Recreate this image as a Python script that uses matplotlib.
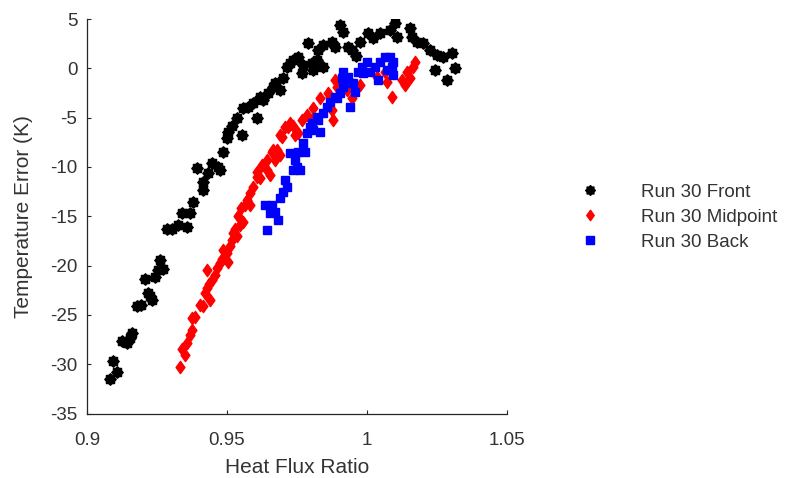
import matplotlib
matplotlib.use("Agg")
import matplotlib.pyplot as plt
from matplotlib.path import Path
import numpy as np

plt.rcParams['font.family'] = ['Liberation Sans', 'DejaVu Sans']
plt.rcParams['axes.unicode_minus'] = False

# ---- data ----
front_x = [0.9082, 0.9107, 0.9093, 0.9125, 0.9143, 0.9154, 0.9161, 0.9179, 0.9193, 0.9207,
           0.9218, 0.9232, 0.9225, 0.9243, 0.9254, 0.9261, 0.9271, 0.9286, 0.9304, 0.9325,
           0.9357, 0.9339, 0.9368, 0.9379, 0.9414, 0.9414, 0.9393, 0.9432, 0.9446, 0.9468,
           0.9475, 0.9486, 0.9500, 0.9504, 0.9518, 0.9536, 0.9554, 0.9557, 0.9575, 0.9593,
           0.9607, 0.9618, 0.9629, 0.9646, 0.9664, 0.9671, 0.9689, 0.9700, 0.9714, 0.9725,
           0.9736, 0.9754, 0.9768, 0.9771, 0.9789, 0.9804, 0.9821, 0.9825, 0.9843, 0.9843,
           0.9875, 0.9886, 0.9904, 0.9914, 0.9932, 0.9946, 0.9975, 1.0004, 1.0021, 1.0046,
           1.0082, 1.0100, 1.0107, 1.0154, 1.0161, 1.0179, 1.0200, 1.0225, 1.0250, 1.0271,
           1.0304, 1.0243, 1.0314, 1.0286, 0.9961, 0.9807]
front_y = [-31.5, -30.8, -29.7, -27.6, -27.9, -27.3, -26.8, -24.1, -24.0, -21.4,
           -22.8, -23.5, -23.1, -21.2, -20.5, -19.4, -20.3, -16.3, -16.3, -15.9,
           -16.1, -14.7, -14.7, -13.6, -12.3, -11.5, -10.1, -10.6, -9.6, -10.0,
           -10.3, -8.5, -7.1, -6.5, -5.8, -5.0, -6.8, -4.0, -3.9, -3.5,
           -5.0, -2.9, -3.2, -2.5, -1.9, -1.5, -2.2, -1.0, 0.1, 0.5,
           0.8, 1.1, -0.5, 0.3, 2.6, 0.5, 0.8, 1.9, 0.1, 2.4,
           2.7, 2.2, 4.4, 3.7, 2.2, 1.9, 2.7, 3.6, 3.1, 3.6,
           3.9, 4.6, 3.2, 4.1, 3.2, 2.7, 2.6, 1.9, 1.3, 1.1,
           1.6, -0.2, 0.0, -1.2, 1.2, -0.2]

mid_x = [0.9332, 0.9350, 0.9339, 0.9357, 0.9368, 0.9375, 0.9386, 0.9375, 0.9404, 0.9414,
         0.9439, 0.9421, 0.9429, 0.9436, 0.9446, 0.9429, 0.9457, 0.9464, 0.9475, 0.9482,
         0.9486, 0.9500, 0.9504, 0.9511, 0.9518, 0.9521, 0.9536, 0.9529, 0.9546, 0.9557,
         0.9539, 0.9550, 0.9564, 0.9582, 0.9571, 0.9582, 0.9593, 0.9607, 0.9618, 0.9607,
         0.9625, 0.9643, 0.9643, 0.9661, 0.9679, 0.9671, 0.9654, 0.9664, 0.9689, 0.9689,
         0.9696, 0.9707, 0.9718, 0.9725, 0.9736, 0.9743, 0.9754, 0.9768, 0.9786, 0.9804,
         0.9807, 0.9832, 0.9861, 0.9875, 0.9879, 0.9868, 0.9893, 0.9904, 0.9886, 0.9929,
         0.9946, 0.9975, 1.0036, 1.0071, 1.0089, 1.0064, 1.0125, 1.0136, 1.0143, 1.0164,
         1.0171, 1.0154]
mid_y = [-30.3, -29.1, -28.5, -27.9, -27.0, -26.5, -25.2, -25.3, -24.0, -24.1,
         -23.5, -22.8, -22.3, -21.9, -21.5, -20.5, -21.0, -20.2, -19.7, -19.3,
         -18.4, -18.7, -19.6, -18.0, -17.4, -16.7, -17.0, -16.3, -15.9, -15.6,
         -15.0, -14.2, -13.9, -13.9, -13.4, -12.6, -12.0, -11.0, -11.1, -10.5,
         -9.8, -10.3, -9.3, -8.5, -8.3, -9.3, -10.8, -8.3, -8.8, -6.8,
         -7.0, -6.0, -6.0, -5.5, -5.8, -6.8, -6.6, -5.2, -4.7, -5.2,
         -4.0, -3.0, -2.5, -4.2, -5.2, -2.9, -1.9, -1.4, -1.2, -2.2,
         -3.0, -1.7, -0.9, -1.4, -2.9, -0.4, -1.2, -1.7, -0.4, 0.1,
         0.6, -1.0]

back_x = [0.9643, 0.9636, 0.9661, 0.9654, 0.9682, 0.9671, 0.9689, 0.9700, 0.9714, 0.9707,
          0.9736, 0.9750, 0.9761, 0.9743, 0.9725, 0.9754, 0.9779, 0.9771, 0.9786, 0.9807,
          0.9832, 0.9804, 0.9821, 0.9843, 0.9857, 0.9868, 0.9893, 0.9904, 0.9939, 0.9914,
          0.9939, 0.9957, 0.9911, 0.9914, 0.9932, 0.9950, 0.9968, 0.9982, 1.0000, 1.0011,
          1.0029, 1.0046, 1.0064, 1.0082, 1.0089, 1.0093, 1.0039, 0.9986, 1.0071, 1.0093,
          0.9796, 0.9825, 0.9886]
back_y = [-16.4, -13.9, -13.9, -14.7, -15.4, -14.6, -13.1, -12.5, -12.0, -11.3,
          -10.3, -10.0, -10.3, -9.3, -8.6, -8.5, -8.5, -7.6, -6.6, -6.3,
          -6.5, -5.5, -4.9, -4.5, -3.9, -3.4, -3.0, -2.5, -3.9, -1.9,
          -1.5, -2.4, -1.0, -0.4, -0.9, -1.5, -0.4, 0.1, 0.6, -0.4,
          0.1, 0.6, 1.1, 1.1, 0.1, -0.7, -1.2, -0.5, -0.2, 0.6,
          -6.0, -5.2, -2.9]

series_labels = ['Run 30 Front', 'Run 30 Midpoint', 'Run 30 Back']
x_ticks = [0.9, 0.95, 1.0, 1.05]
x_ticklabels = ['0.9', '0.95', '1', '1.05']
y_ticks = list(range(-35, 6, 5))

# ---- markers ----
star_marker = Path.unit_regular_star(8, 0.78)
diamond_marker = Path([(0, 1), (0.72, 0), (0, -1), (-0.72, 0), (0, 1)],
                      [Path.MOVETO, Path.LINETO, Path.LINETO, Path.LINETO, Path.CLOSEPOLY])

fig = plt.figure(figsize=(7.86, 4.78), dpi=100)
ax = fig.add_axes([87 / 786, 1 - 413.5 / 478, 420 / 786, 394.5 / 478])

ax.plot(front_x, front_y, linestyle='none', marker=star_marker, ms=8.2,
        color='black', mec='black', label=series_labels[0])
ax.plot(mid_x, mid_y, linestyle='none', marker=diamond_marker, ms=8.8,
        color='red', mec='red', label=series_labels[1])
ax.plot(back_x, back_y, linestyle='none', marker='s', ms=6.2,
        color='blue', mec='blue', label=series_labels[2])

ax.set_xlim(0.9, 1.05)
ax.set_ylim(-35, 5)
ax.set_xticks(x_ticks)
ax.set_xticklabels(x_ticklabels)
ax.set_yticks(y_ticks)

axis_color = '#262626'
for s in ['top', 'right']:
    ax.spines[s].set_visible(False)
for s in ['left', 'bottom']:
    ax.spines[s].set_color(axis_color)
    ax.spines[s].set_linewidth(0.9)
ax.tick_params(direction='in', length=3, width=0.8, colors=axis_color,
               labelsize=13.5, labelcolor='#333333')
ax.tick_params(axis='x', pad=13)
ax.tick_params(axis='y', pad=7)

ax.set_xlabel('Heat Flux Ratio', fontsize=15, color='#333333', labelpad=7)
ax.set_ylabel('Temperature Error (K)', fontsize=15, color='#333333', labelpad=12)

leg = fig.legend(loc='upper left', bbox_to_anchor=(562 / 786, 1 - 167 / 478),
                 frameon=False, fontsize=13.5, handletextpad=2.1,
                 labelspacing=0.42, markerscale=0.85, handlelength=1.2)
for t in leg.get_texts():
    t.set_color('#333333')

fig.savefig('out.png', dpi=100)
